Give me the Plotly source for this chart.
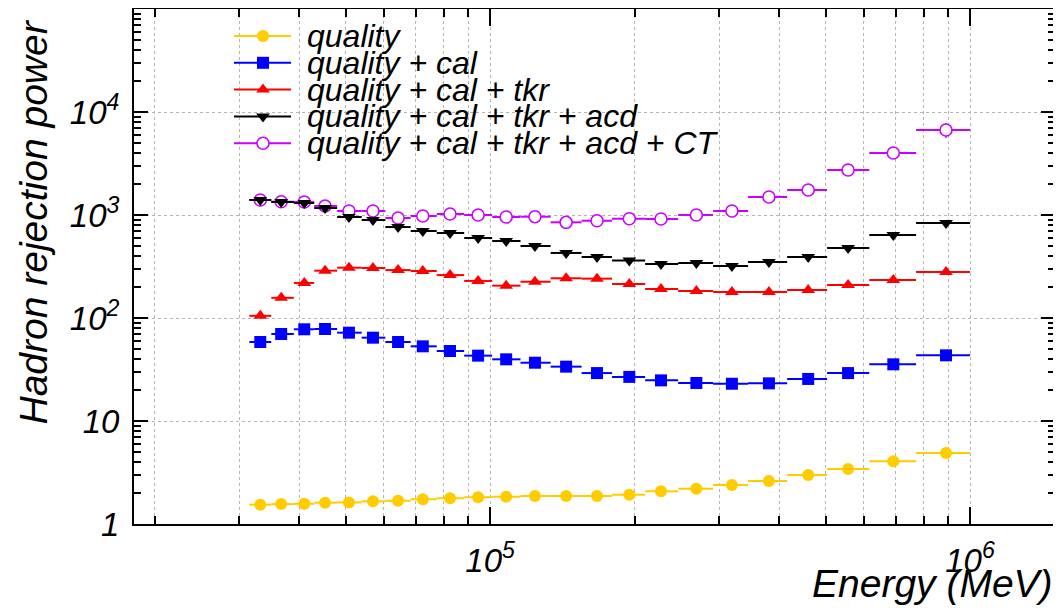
import math
import plotly.graph_objects as go

# ---------------- data ----------------
energy = [33200, 36700, 41000, 45300, 50800, 57000, 64300, 72400, 82500, 94400,
          108000, 124000, 144000, 167000, 195000, 227000, 269000, 319000, 381000,
          460000, 557000, 692000, 891000]
bin_edges = [31500, 35000, 39000, 43000, 48000, 54000, 60500, 68300, 77400, 88300,
             101000, 115700, 133700, 155100, 179500, 210400, 246500, 291500, 344700,
             415800, 503700, 616600, 771900, 1000000]

quality = [1.54, 1.56, 1.57, 1.61, 1.62, 1.66, 1.68, 1.74, 1.78, 1.82, 1.84, 1.87,
           1.87, 1.87, 1.92, 2.08, 2.20, 2.39, 2.61, 2.99, 3.42, 4.06, 4.89]
q_cal = [58.5, 69.9, 77.7, 78.2, 72.0, 64.4, 58.5, 53.1, 47.8, 43.1, 39.7, 36.8,
         33.7, 29.2, 26.8, 24.8, 23.4, 23.0, 23.2, 25.6, 29.2, 35.5, 43.4]
q_cal_tkr = [105, 157, 219, 288, 308, 306, 292, 286, 261, 229, 206, 225, 243, 241,
             214, 191, 183, 179, 179, 187, 209, 234, 280]
q_cal_tkr_acd = [1398, 1337, 1308, 1169, 956, 894, 764, 699, 669, 598, 559, 500,
                 428, 391, 362, 335, 342, 320, 350, 391, 478, 640, 836]
q_cal_tkr_acd_ct = [1398, 1346, 1337, 1223, 1094, 1094, 935, 978, 1023, 1000, 956,
                    963, 849, 880, 920, 915, 1000, 1094, 1496, 1749, 2734, 4000, 6685]
ct_err = [0] * 20 + [250, 450, 1100]

series_names = ["quality", "quality + cal", "quality + cal + tkr",
                "quality + cal + tkr + acd", "quality + cal + tkr + acd + CT"]
series_values = [quality, q_cal, q_cal_tkr, q_cal_tkr_acd, q_cal_tkr_acd_ct]
series_colors = ["#ffcc00", "#0000ff", "#ff0000", "#000000", "#cc00ff"]
series_symbols = ["circle", "square", "triangle-up", "triangle-down", "circle"]
series_fill = ["#ffcc00", "#0000ff", "#ff0000", "#000000", "#ffffff"]
draw_order = [0, 1, 2, 4, 3]

x_major = [1e5, 1e6]
x_major_text = ["10<sup>5</sup>", "10<sup>6</sup>"]
y_major = [1, 10, 100, 1000, 10000, 100000]
y_major_text = ["1", "10", "10<sup>2</sup>", "10<sup>3</sup>", "10<sup>4</sup>", ""]

FONT = "Liberation Sans, Arial, Helvetica, sans-serif"

# page geometry (the page body adds an 8 px offset)
OFF = 8
W, H = 1061 - OFF, 608 - OFF
PL, PR, PT, PB = 134, 1055, 9, 524   # plot-area in page pixels


def px(xp):
    return (xp - PL) / (PR - PL)


def py(yp):
    return (PB - yp) / (PB - PT)


# ---------------- figure ----------------
fig = go.Figure()

err_plus = [hi - c for c, hi in zip(energy, bin_edges[1:])]
err_minus = [c - lo for c, lo in zip(energy, bin_edges[:-1])]

for i in draw_order:
    name, vals, col = series_names[i], series_values[i], series_colors[i]
    sym, fill = series_symbols[i], series_fill[i]
    ey = dict(visible=False)
    if name.endswith("CT"):
        ey = dict(type="data", array=ct_err, visible=True, color=col,
                  thickness=1.5, width=0)
    fig.add_trace(go.Scatter(
        x=energy, y=vals, mode="markers", name=name, showlegend=False,
        marker=dict(symbol=sym, size=12, color=fill,
                    line=dict(color=col, width=1.6 if fill == "#ffffff" else 0)),
        error_x=dict(type="data", symmetric=False, array=err_plus,
                     arrayminus=err_minus, color=col, thickness=2, width=0),
        error_y=ey,
        xaxis="x", yaxis="y",
    ))

# minor tick values
x_minor = [m * 10 ** e for e in (4, 5) for m in range(2, 10) if 18000 <= m * 10 ** e <= 1.5e6]
x_all = sorted(x_minor + x_major)
x_all_text = [x_major_text[x_major.index(v)] if v in x_major else "" for v in x_all]
y_minor = [m * 10 ** e for e in range(0, 5) for m in range(2, 10)]

xr = [4.258, 6.177]
yr = [0, 5]

tickfont = dict(family=FONT, size=33, color="black", style="italic")

fig.update_layout(
    width=W, height=H, autosize=False,
    margin=dict(l=PL - OFF, r=1061 - PR, t=PT - OFF, b=608 - PB, pad=0),
    paper_bgcolor="white", plot_bgcolor="white",
    showlegend=False,
    xaxis=dict(type="log", range=xr, tickmode="array", tickvals=x_all,
               ticktext=x_all_text, ticks="inside", ticklen=8, tickwidth=1.5,
               tickcolor="black", showline=True, linecolor="black", linewidth=2,
               mirror="allticks", showgrid=True, gridcolor="#b4b4b4",
               griddash="dot", gridwidth=1, zeroline=False, tickfont=tickfont,
               ticklabelstandoff=6, automargin=False),
    xaxis2=dict(type="log", range=xr, overlaying="x", anchor="y", side="bottom",
                tickmode="array", tickvals=x_major, ticks="inside", ticklen=17,
                tickwidth=1.5, tickcolor="black", showticklabels=False,
                showline=False, mirror="allticks", showgrid=False, zeroline=False,
                automargin=False),
    yaxis=dict(type="log", range=yr, tickmode="array", tickvals=y_major,
               ticktext=y_major_text, ticks="inside", ticklen=14, tickwidth=1.5,
               tickcolor="black", showline=True, linecolor="black", linewidth=2,
               mirror="allticks", showgrid=True, gridcolor="#b4b4b4",
               griddash="dot", gridwidth=1, zeroline=False, tickfont=tickfont,
               ticklabelstandoff=6, automargin=False),
    yaxis2=dict(type="log", range=yr, overlaying="y", anchor="x", side="left",
                tickmode="array", tickvals=y_minor, ticks="inside", ticklen=7,
                tickwidth=1.5, tickcolor="black", showticklabels=False,
                showline=False, mirror="allticks", showgrid=False, zeroline=False,
                automargin=False),
    xaxis3=dict(range=[PL, PR], overlaying="x", anchor="y3", visible=False,
                fixedrange=True, automargin=False),
    yaxis3=dict(range=[PB, PT], overlaying="y", anchor="x3", visible=False,
                fixedrange=True, automargin=False),
)

# anchor trace so the minor-tick axes render
fig.add_trace(go.Scatter(x=[1e5], y=[1e3], xaxis="x2", yaxis="y2", mode="markers",
                         marker=dict(size=1, opacity=0), hoverinfo="skip",
                         showlegend=False))

# ---------------- manual legend ----------------
fig.add_shape(type="rect", xref="paper", yref="paper", x0=px(222), x1=px(600),
              y0=py(157), y1=py(22), fillcolor="white", line=dict(width=0),
              layer="between")
leg_y0, leg_dy = 36, 26.8
for i, (name, col, sym, fill) in enumerate(zip(series_names, series_colors,
                                                series_symbols, series_fill)):
    yy = leg_y0 + leg_dy * i
    fig.add_trace(go.Scatter(x=[234, 291], y=[yy, yy], mode="lines",
                             line=dict(color=col, width=2), xaxis="x3", yaxis="y3",
                             hoverinfo="skip", showlegend=False))
    fig.add_trace(go.Scatter(x=[263], y=[yy], mode="markers",
                             marker=dict(symbol=sym, size=12, color=fill,
                                         line=dict(color=col,
                                                   width=1.6 if fill == "#ffffff" else 0)),
                             xaxis="x3", yaxis="y3", hoverinfo="skip", showlegend=False))
    fig.add_annotation(x=px(305), y=py(yy), xref="paper", yref="paper", text=name,
                       showarrow=False, xanchor="left", yanchor="middle",
                       font=dict(family=FONT, size=32, color="black", style="italic"))

# ---------------- axis titles ----------------
fig.add_annotation(x=px(33), y=py(18), xref="paper", yref="paper",
                   text="Hadron rejection power", textangle=-90, showarrow=False,
                   xanchor="center", yanchor="top",
                   font=dict(family=FONT, size=39, color="black", style="italic"))
fig.add_annotation(x=1.0, y=py(583), xref="paper", yref="paper",
                   text="Energy (MeV)", showarrow=False, xanchor="right",
                   yanchor="middle",
                   font=dict(family=FONT, size=39, color="black", style="italic"))

fig.write_html("out.html")
